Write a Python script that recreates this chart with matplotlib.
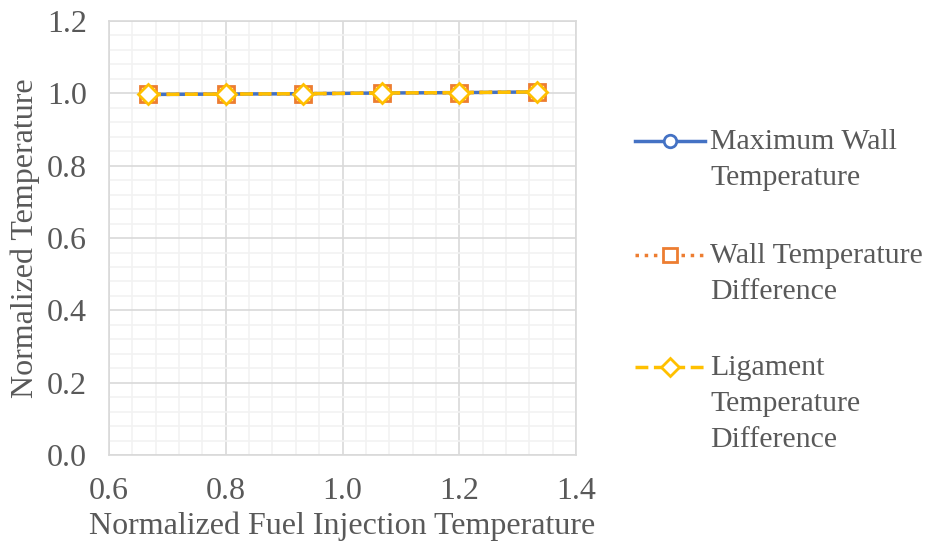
import matplotlib.pyplot as plt
from matplotlib.lines import Line2D
from matplotlib.ticker import MultipleLocator

# fuel injection temperature vs normalized temperatures
x_fuel = [0.667, 0.800, 0.933, 1.067, 1.200, 1.333]
max_wall = [0.997, 0.998, 0.999, 1.001, 1.002, 1.004]
wall_diff = [0.997, 0.998, 0.999, 1.001, 1.002, 1.004]
lig_diff = [0.997, 0.998, 0.999, 1.001, 1.002, 1.004]

labels = ["Maximum Wall\nTemperature",
          "Wall Temperature\nDifference",
          "Ligament\nTemperature\nDifference"]

txt = "#595959"
plt.rcParams['font.family'] = ['Liberation Serif', 'DejaVu Serif']
plt.rcParams['font.size'] = 23

fig = plt.figure(figsize=(9.28, 5.47), dpi=100)
ax = fig.add_axes([0.1175, 0.168, 0.5032, 0.7936])

styles = [
    dict(ls='-', color='#4472C4', marker='o', ms=10),
    dict(ls=':', color='#ED7D31', marker='s', ms=11),
    dict(ls='--', color='#FFC000', marker='D', ms=10),
]
for y, st in zip([max_wall, wall_diff, lig_diff], styles):
    ax.plot(x_fuel, y, lw=2.5, mfc='white', mec=st['color'], mew=2, **st)

ax.set_xlim(0.6, 1.4)
ax.set_ylim(0, 1.2)
ax.xaxis.set_major_locator(MultipleLocator(0.2))
ax.yaxis.set_major_locator(MultipleLocator(0.2))
ax.xaxis.set_minor_locator(MultipleLocator(0.04))
ax.yaxis.set_minor_locator(MultipleLocator(0.04))
ax.xaxis.set_major_formatter('{x:.1f}')
ax.yaxis.set_major_formatter('{x:.1f}')
ax.grid(which='major', color='#D9D9D9', lw=1.2)
ax.grid(which='minor', color='#F2F2F2', lw=1.2)
ax.set_axisbelow(True)
for s in ax.spines.values():
    s.set_color('#D9D9D9')
    s.set_linewidth(1.2)
ax.tick_params(which='both', length=0, colors=txt)
ax.tick_params(axis='x', pad=16)
ax.tick_params(axis='y', pad=16)

ax.set_xlabel("Normalized Fuel Injection Temperature", color=txt, labelpad=4)
ax.set_ylabel("Normalized Temperature", color=txt, labelpad=5)

# legend entries: handle lined up with the first text line
W, H = 928, 547
leg_rows = [141, 255, 367]
for row, lab, st in zip(leg_rows, labels, styles):
    yf = 1 - row / H
    fig.add_artist(Line2D([635 / W, 705 / W], [yf, yf], lw=2.5,
                          ls=st['ls'], color=st['color']))
    fig.add_artist(Line2D([670 / W], [yf], marker=st['marker'], ms=st['ms'] - 1,
                          mfc='white', mec=st['color'], mew=2))
    fig.text(710 / W, 1 - (row - 12) / H, lab, color=txt, ha='left', va='top',
             fontsize=21.5, linespacing=1.5, transform=fig.transFigure)

fig.savefig("out.png", dpi=100)
